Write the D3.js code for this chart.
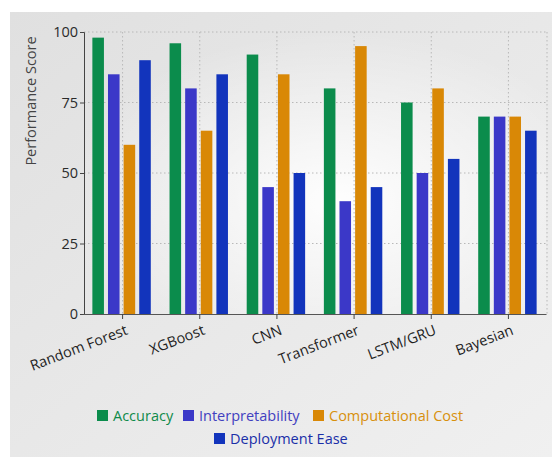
<!DOCTYPE html>
<html><head><meta charset="utf-8">
<script src="https://cdn.jsdelivr.net/npm/d3@7"></script>
<style>
html,body{margin:0;padding:0;background:#fff;}
svg{display:block;font-family:"Open Sans","Noto Sans",sans-serif;}
</style></head>
<body><svg id="c" width="552" height="457"></svg>
<script>
const categories = ["Random Forest","XGBoost","CNN","Transformer","LSTM/GRU","Bayesian"];
const seriesNames = ["Accuracy","Interpretability","Computational Cost","Deployment Ease"];
const accuracy = [98, 96, 92, 80, 75, 70];
const interpretability = [85, 80, 45, 40, 50, 70];
const computationalCost = [60, 65, 85, 95, 80, 70];
const deploymentEase = [90, 85, 50, 45, 55, 65];
const yTicks = [0, 25, 50, 75, 100];
const colors = ["#0b8c4c", "#3b38c8", "#d98806", "#1234bc"];
const textColors = ["#0f8a4a", "#4140c0", "#d8900c", "#1a2fa8"];

const values = [accuracy, interpretability, computationalCost, deploymentEase];
const FONT = "'Open Sans','Noto Sans',sans-serif";
const svg = d3.select("#c");
const defs = svg.append("defs");
const lg = defs.append("linearGradient").attr("id","bg").attr("x1","0").attr("y1","0").attr("x2","1").attr("y2","1");
lg.append("stop").attr("offset","0").attr("stop-color","#e0e0e0");
lg.append("stop").attr("offset","1").attr("stop-color","#f0f0f0");
const rg = defs.append("radialGradient").attr("id","pg").attr("cx","0.55").attr("cy","0.6").attr("r","0.6");
rg.append("stop").attr("offset","0").attr("stop-color","#ffffff").attr("stop-opacity","0.95");
rg.append("stop").attr("offset","1").attr("stop-color","#ffffff").attr("stop-opacity","0");

svg.append("rect").attr("x",10).attr("y",12).attr("width",542).attr("height",445).attr("fill","url(#bg)");

const m = {l:84, r:546, t:32, b:314};
svg.append("rect").attr("x",m.l).attr("y",m.t).attr("width",m.r-m.l).attr("height",m.b-m.t).attr("fill","url(#pg)");

const x0 = d3.scaleBand().domain(categories).range([m.l-1, m.r]).padding(0);
const x1 = d3.scaleBand().domain(seriesNames).range([0, x0.bandwidth()]).paddingInner(0.26).paddingOuter(0.6);
const y = d3.scaleLinear().domain([0,100]).range([m.b, m.t]);

// grid
const g = svg.append("g");
g.selectAll(".hg").data(yTicks.filter(d=>d>0)).join("line")
  .attr("x1",m.l).attr("x2",m.r+1).attr("y1",d=>y(d)).attr("y2",d=>y(d))
  .attr("stroke","#b8b8b8").attr("stroke-width",1).attr("stroke-dasharray","1.5,2.5");
g.selectAll(".vg").data(categories).join("line")
  .attr("x1",d=>x0(d)+x0.bandwidth()/2+1).attr("x2",d=>x0(d)+x0.bandwidth()/2+1)
  .attr("y1",m.t).attr("y2",m.b)
  .attr("stroke","#b8b8b8").attr("stroke-width",1).attr("stroke-dasharray","1.5,2.5");
g.append("line").attr("x1",m.r+1).attr("x2",m.r+1).attr("y1",m.t).attr("y2",m.b)
  .attr("stroke","#b8b8b8").attr("stroke-dasharray","1.5,2.5");

// bars
const groups = svg.append("g").selectAll("g").data(categories).join("g")
  .attr("transform", d => `translate(${x0(d)},0)`);
groups.selectAll("rect").data((c,i) => seriesNames.map((s,j)=>({s, v: values[j][i], j})))
  .join("rect")
  .attr("x", d => x1(d.s)).attr("width", x1.bandwidth())
  .attr("y", d => y(d.v)).attr("height", d => y(0)-y(d.v))
  .attr("fill", d => colors[d.j]);

// y axis
const ya = svg.append("g").attr("transform",`translate(${m.l},0)`)
  .call(d3.axisLeft(y).tickValues(yTicks).tickSize(4).tickSizeOuter(4).tickPadding(2))
  .attr("font-family", FONT);
ya.select(".domain").attr("stroke","#444");
ya.selectAll(".tick line").attr("stroke","#444");
ya.selectAll(".tick text").attr("font-size",14.5).attr("fill","#2a2a2a");

// x axis
const xa = svg.append("g").attr("transform",`translate(0,${m.b})`)
  .call(d3.axisBottom(x0).tickSize(5).tickSizeOuter(0))
  .attr("font-family", FONT);
xa.select(".domain").attr("stroke","#555");
xa.selectAll(".tick line").attr("stroke","#444").attr("transform","translate(1,0)");
xa.selectAll(".tick text").attr("font-size",14.5).attr("fill","#1e1e1e")
  .attr("text-anchor","end").attr("dy","0").attr("y",0)
  .attr("transform","translate(7,20) rotate(-21)");

// y label
svg.append("text").attr("transform","translate(36,101) rotate(-90)")
  .attr("text-anchor","middle").attr("font-size",14.5).attr("fill","#444").text("Performance Score");

// legend
const legendItems = [
  {i:0, x:97, y:410},
  {i:1, x:183, y:410},
  {i:2, x:313, y:410},
  {i:3, x:214, y:433}
];
const lgG = svg.append("g");
legendItems.forEach(it => {
  lgG.append("rect").attr("x",it.x).attr("y",it.y).attr("width",11).attr("height",11).attr("fill",colors[it.i]);
  lgG.append("text").attr("x",it.x+16).attr("y",it.y+10.5).attr("font-size",14.5)
    .attr("fill",textColors[it.i]).text(seriesNames[it.i]);
});
</script></body></html>
